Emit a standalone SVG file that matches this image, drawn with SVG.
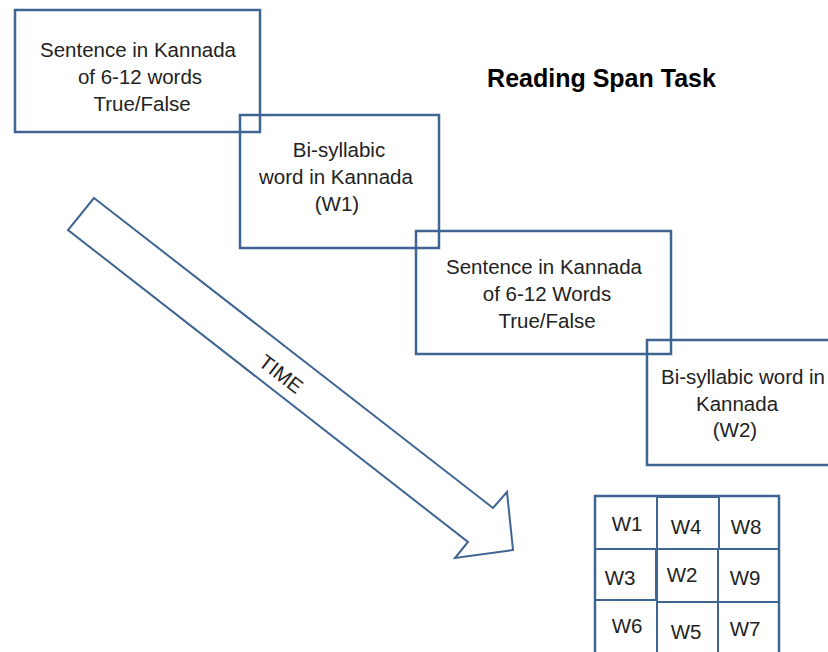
<svg xmlns="http://www.w3.org/2000/svg" width="828" height="652" viewBox="0 0 828 652">
  <style>
    .box { fill: none; stroke: #3F6593; stroke-width: 2.5; }
    .cell { fill: none; stroke: #3F6593; stroke-width: 2; }
    .t { font-family: "Liberation Sans", Arial, sans-serif; font-size: 20.5px; fill: #222222; text-anchor: middle; }
    .w { font-family: "Liberation Sans", Arial, sans-serif; font-size: 20.5px; fill: #222222; text-anchor: middle; }
    .title { font-family: "Liberation Sans", Arial, sans-serif; font-size: 25px; font-weight: bold; fill: #000; text-anchor: middle; }
  </style>
  <rect width="828" height="652" fill="#ffffff"/>

  <text class="title" x="601.5" y="87">Reading Span Task</text>

  <g id="node-sentence1">
    <rect class="box" x="15" y="10" width="245" height="122"/>
    <text class="t" x="138" y="57">Sentence in Kannada</text>
    <text class="t" x="140" y="84">of 6-12 words</text>
    <text class="t" x="142" y="111">True/False</text>
  </g>

  <g id="node-word1">
    <rect class="box" x="240" y="115" width="199" height="133"/>
    <text class="t" x="339" y="157">Bi-syllabic</text>
    <text class="t" x="336" y="184">word in Kannada</text>
    <text class="t" x="337" y="211">(W1)</text>
  </g>

  <g id="node-sentence2">
    <rect class="box" x="416" y="231" width="255" height="123"/>
    <text class="t" x="544" y="274">Sentence in Kannada</text>
    <text class="t" x="547" y="301">of 6-12 Words</text>
    <text class="t" x="547" y="328">True/False</text>
  </g>

  <g id="node-word2">
    <rect class="box" x="647" y="340" width="190" height="125"/>
    <text class="t" x="743" y="384">Bi-syllabic word in</text>
    <text class="t" x="737" y="411">Kannada</text>
    <text class="t" x="735" y="437">(W2)</text>
  </g>

  <g id="connectors">
    <g id="time-arrow">
      <polygon points="94,198 493,508 507,492 513,550 455,558 468,542 68,230" fill="#ffffff" stroke="#3F6593" stroke-width="2"/>
      <text transform="translate(281,374) rotate(37.8)" x="0" y="7" font-family="Liberation Sans, Arial, sans-serif" font-size="20.5" fill="#222222" text-anchor="middle">TIME</text>
    </g>
  </g>

  <g id="node-grid">
    <rect class="cell" x="595" y="496" width="62" height="53"/>
    <rect class="cell" x="657" y="497" width="62" height="52"/>
    <rect class="cell" x="719" y="496" width="60" height="53"/>
    <rect class="cell" x="595" y="549" width="61" height="51"/>
    <rect class="cell" x="657" y="549" width="61" height="53"/>
    <rect class="cell" x="718" y="549" width="61" height="53"/>
    <rect class="cell" x="595" y="600" width="62" height="60"/>
    <rect class="cell" x="657" y="602" width="61" height="58"/>
    <rect class="cell" x="718" y="602" width="61" height="58"/>
    <rect x="595" y="496" width="184" height="170" fill="none" stroke="#3F6593" stroke-width="2.5"/>
    <text class="w" x="627" y="531">W1</text>
    <text class="w" x="686" y="534">W4</text>
    <text class="w" x="746" y="534">W8</text>
    <text class="w" x="620" y="585">W3</text>
    <text class="w" x="682" y="582">W2</text>
    <text class="w" x="745" y="585">W9</text>
    <text class="w" x="627" y="633">W6</text>
    <text class="w" x="686" y="639">W5</text>
    <text class="w" x="745" y="636">W7</text>
  </g>
</svg>
